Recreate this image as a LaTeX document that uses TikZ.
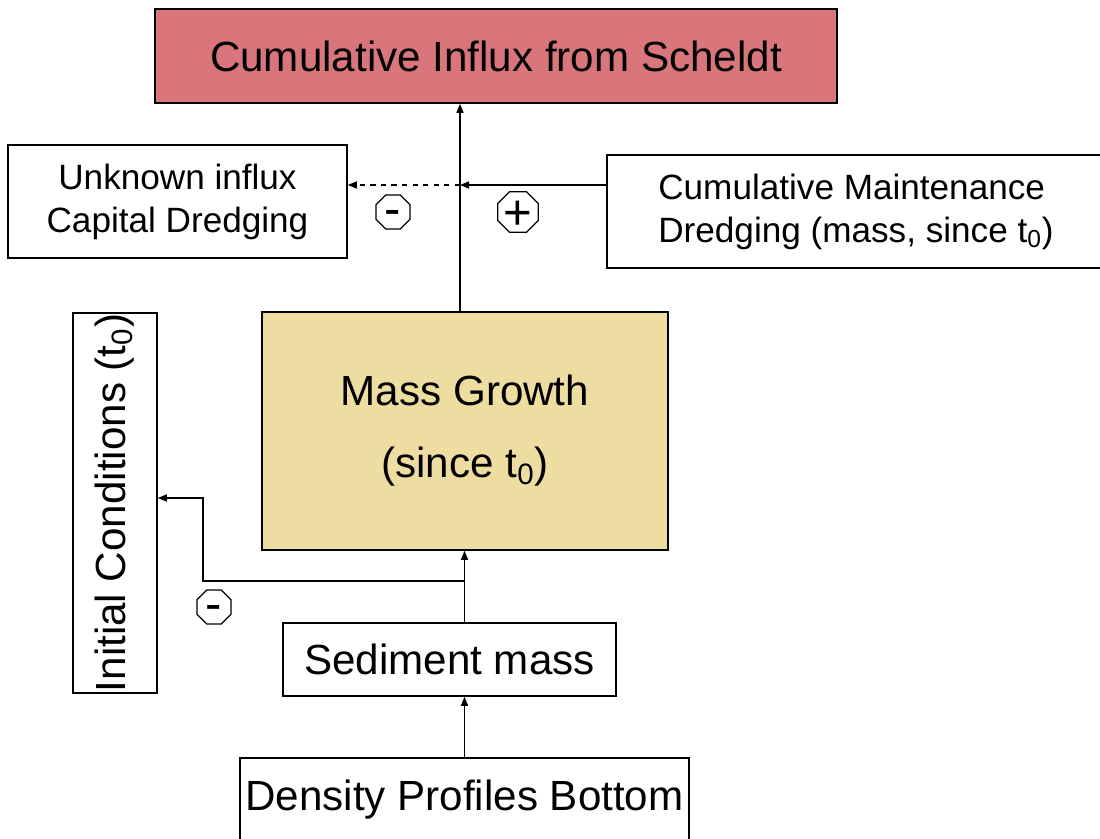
\documentclass[tikz,border=0pt]{standalone}
\usepackage{fontspec}
\setmainfont{Liberation Sans}
\usetikzlibrary{arrows.meta,shapes.geometric}

\definecolor{influxred}{RGB}{216,118,124}
\definecolor{growthtan}{RGB}{238,221,160}

% sign glyph centred on its ink
\newcommand{\signtxt}[2]{\raisebox{-#1em}[0pt][0pt]{#2}}

\tikzset{
  box/.style={draw, line width=0.9pt, inner sep=0pt, font=\fontsize{24}{28}\selectfont},
  smallbox/.style={box, font=\fontsize{20}{24.5}\selectfont},
  sign/.style={draw, regular polygon, regular polygon sides=8, minimum size=0.74cm,
    inner sep=0pt, line width=0.7pt, font=\fontsize{28}{28}\selectfont},
  arr/.style={-{Triangle[length=0.18cm,width=0.14cm]}, line width=0.8pt}
}

\begin{document}
\begin{tikzpicture}[x=0.02cm, y=-0.02cm]

\useasboundingbox (0,0) rectangle (1100,839);

\node[box, fill=influxred, minimum width=13.64cm, minimum height=1.88cm] (influx) at (496,56) {Cumulative Influx from Scheldt};

\node[smallbox, align=center, minimum width=6.78cm, minimum height=2.26cm] (unknown) at (177.5,201.5) {Unknown influx\\Capital Dredging};

\node[smallbox, align=left, minimum width=9.96cm, minimum height=2.26cm] (maint) at (856,211.5) {Cumulative Maintenance\\Dredging (mass, since t\textsubscript{0})};

\node[box, rotate=90, minimum width=7.6cm, minimum height=1.68cm] (init) at (115,503) {Initial Conditions (t\textsubscript{0})};

\node[box, fill=growthtan, align=center, minimum width=8.12cm, minimum height=4.76cm] (growth) at (465,431) {Mass Growth\\[13pt](since t\textsubscript{0})};

\node[box, minimum width=6.66cm, minimum height=1.46cm] (sed) at (449.5,659.5) {Sediment mass};

\node[box, minimum width=8.98cm, minimum height=1.68cm] (dens) at (464.5,800) {Density Profiles Bottom};

% plus / minus signs
\node[sign] (m1) at (393,212) {\signtxt{0.27}{-}};
\node[sign] (p1) at (518,212) {\signtxt{0.35}{+}};
\node[sign] (m2) at (214,607) {\signtxt{0.27}{-}};

\coordinate (jn) at (460,185);
\coordinate (br) at (465,581);
\coordinate (bend) at (203,498);

\draw[arr] (growth.north -| jn) -- (influx.south -| jn);
\draw[arr] (maint.west |- jn) -- (jn);
\draw[arr, dashed] (jn) -- (unknown.east |- jn);

\draw[arr] (dens.north) -- (sed.south -| dens.north);
\draw[arr] (sed.north -| dens.north) -- (growth.south -| dens.north);
\draw[arr] (br) -| (bend) -- (init.south |- bend);

\end{tikzpicture}
\end{document}
